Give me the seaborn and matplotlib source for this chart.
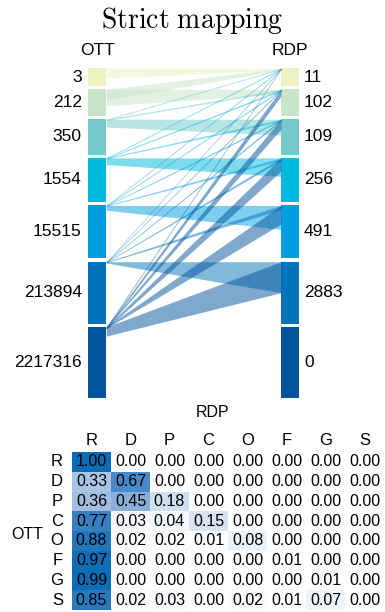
import numpy as np
import pandas as pd
import matplotlib
matplotlib.use("Agg")
import matplotlib.pyplot as plt
import seaborn as sns

# ---- data -------------------------------------------------------------
ranks = ["R", "D", "P", "C", "O", "F", "G", "S"]
levels = ranks[1:]
ott_counts = [3, 212, 350, 1554, 15515, 213894, 2217316]
rdp_counts = [11, 102, 109, 256, 491, 2883, 0]
level_colors = ["#eef1c2", "#c8e4c9", "#74cacb", "#00b9de",
                "#009fe1", "#0074ba", "#01539b"]

# flows between levels (index into `levels`): share of source box / target box
flow_src = [0, 1, 1, 2, 2, 2, 3, 3, 3, 3, 4, 4, 4, 4, 4,
            5, 5, 5, 5, 5, 5, 6, 6, 6, 6, 6, 6]
flow_dst = [0, 0, 1, 0, 1, 2, 0, 1, 2, 3, 0, 1, 2, 3, 4,
            0, 1, 2, 3, 4, 5, 0, 1, 2, 3, 4, 5]
flow_left = [0.55, 0.40, 0.62, 0.03, 0.04, 0.22, 0.02, 0.02, 0.02, 0.15,
             0.015, 0.015, 0.015, 0.015, 0.09,
             0.012, 0.012, 0.012, 0.012, 0.015, 0.02,
             0.02, 0.03, 0.02, 0.03, 0.02, 0.13]
flow_right = [0.10, 0.10, 0.18, 0.06, 0.06, 0.45, 0.06, 0.06, 0.06, 0.42,
              0.06, 0.05, 0.05, 0.06, 0.45,
              0.06, 0.05, 0.05, 0.06, 0.08, 0.50,
              0.06, 0.26, 0.28, 0.30, 0.35, 0.50]

heat_values = [
    [1.00, 0.00, 0.00, 0.00, 0.00, 0.00, 0.00, 0.00],
    [0.33, 0.67, 0.00, 0.00, 0.00, 0.00, 0.00, 0.00],
    [0.36, 0.45, 0.18, 0.00, 0.00, 0.00, 0.00, 0.00],
    [0.77, 0.03, 0.04, 0.15, 0.00, 0.00, 0.00, 0.00],
    [0.88, 0.02, 0.02, 0.01, 0.08, 0.00, 0.00, 0.00],
    [0.97, 0.00, 0.00, 0.00, 0.00, 0.01, 0.00, 0.00],
    [0.99, 0.00, 0.00, 0.00, 0.00, 0.00, 0.01, 0.00],
    [0.85, 0.02, 0.03, 0.00, 0.02, 0.01, 0.07, 0.00],
]

# ---- style ------------------------------------------------------------
sns.set_style("white")
plt.rcParams["font.family"] = ["Liberation Sans", "DejaVu Sans"]
plt.rcParams["mathtext.fontset"] = "cm"
for key in ("text.color", "axes.labelcolor", "xtick.color", "ytick.color"):
    plt.rcParams[key] = "black"

W, H = 385, 612
fig = plt.figure(figsize=(W / 100, H / 100), dpi=100)

fig.text(0.5, 1 - 28.5 / H, r"$\mathrm{Strict\ mapping}$",
         ha="center", va="baseline", fontsize=20, color="black")

# ---- alluvial panel ---------------------------------------------------
ax = fig.add_axes([88.3 / W, 1 - 397.5 / H, 210.7 / W, 329.2 / H])
heights = np.arange(2, 2 + len(levels)).astype(float)
gap = 0.385
tops = np.concatenate([[0.0], np.cumsum(heights + gap)[:-1]])
bw = 18 / 210.7

for i in range(len(levels)):
    for x0 in (0.0, 1 - bw):
        ax.bar(x0, heights[i], bottom=tops[i], width=bw, align="edge",
               color=level_colors[i], linewidth=0)

for s, d, l, r in zip(flow_src, flow_dst, flow_left, flow_right):
    ax.fill_between([bw, 1 - bw],
                    [tops[s], tops[d]],
                    [tops[s] + l * heights[s], tops[d] + r * heights[d]],
                    color=level_colors[s], alpha=0.5, linewidth=0)

lab_kw = dict(fontsize=12.5, va="center", textcoords="offset points",
              color="black")
for i in range(len(levels)):
    c = tops[i] + heights[i] / 2
    ax.annotate(f"{ott_counts[i]}", (0, c), xytext=(-4.8, 0), ha="right", **lab_kw)
    ax.annotate(f"{rdp_counts[i]}", (1, c), xytext=(3.6, 0), ha="left", **lab_kw)

ax.text(bw / 2, -2.05, "OTT", ha="center", va="center", fontsize=12.5)
ax.text(1 - bw / 2, -2.05, "RDP", ha="center", va="center", fontsize=12.5)

total = tops[-1] + heights[-1]
ax.set_xlim(0, 1)
ax.set_ylim(total, 0)
ax.axis("off")

# ---- confusion heatmap ------------------------------------------------
hax = fig.add_axes([72 / W, 2 / H, 312 / W, 158 / H])
df = pd.DataFrame(heat_values, index=ranks, columns=ranks)
cmap = sns.blend_palette(["#ffffff", "#a9c3e4", "#4c8ac8", "#0a6cb6"], as_cmap=True)
sns.heatmap(df, ax=hax, cmap=cmap, vmin=0, vmax=1, annot=True, fmt=".2f",
            cbar=False, annot_kws={"size": 11.5, "color": "black"})
hax.xaxis.tick_top()
hax.xaxis.set_label_position("top")
hax.tick_params(axis="x", length=0, pad=3, labelsize=12, colors="black")
hax.tick_params(axis="y", length=0, pad=6.5, labelsize=12, colors="black")
hax.set_yticklabels(ranks, rotation=0)
hax.set_xticklabels(ranks, rotation=0)
hax.set_xlabel("RDP", fontsize=11.5, color="black")
hax.set_ylabel("OTT", fontsize=11.5, rotation=0, ha="center", va="center",
               color="black")
hax.xaxis.set_label_coords(0.452, 1.22)
hax.yaxis.set_label_coords(-0.144, 0.475)

fig.savefig("out.png", dpi=100)
